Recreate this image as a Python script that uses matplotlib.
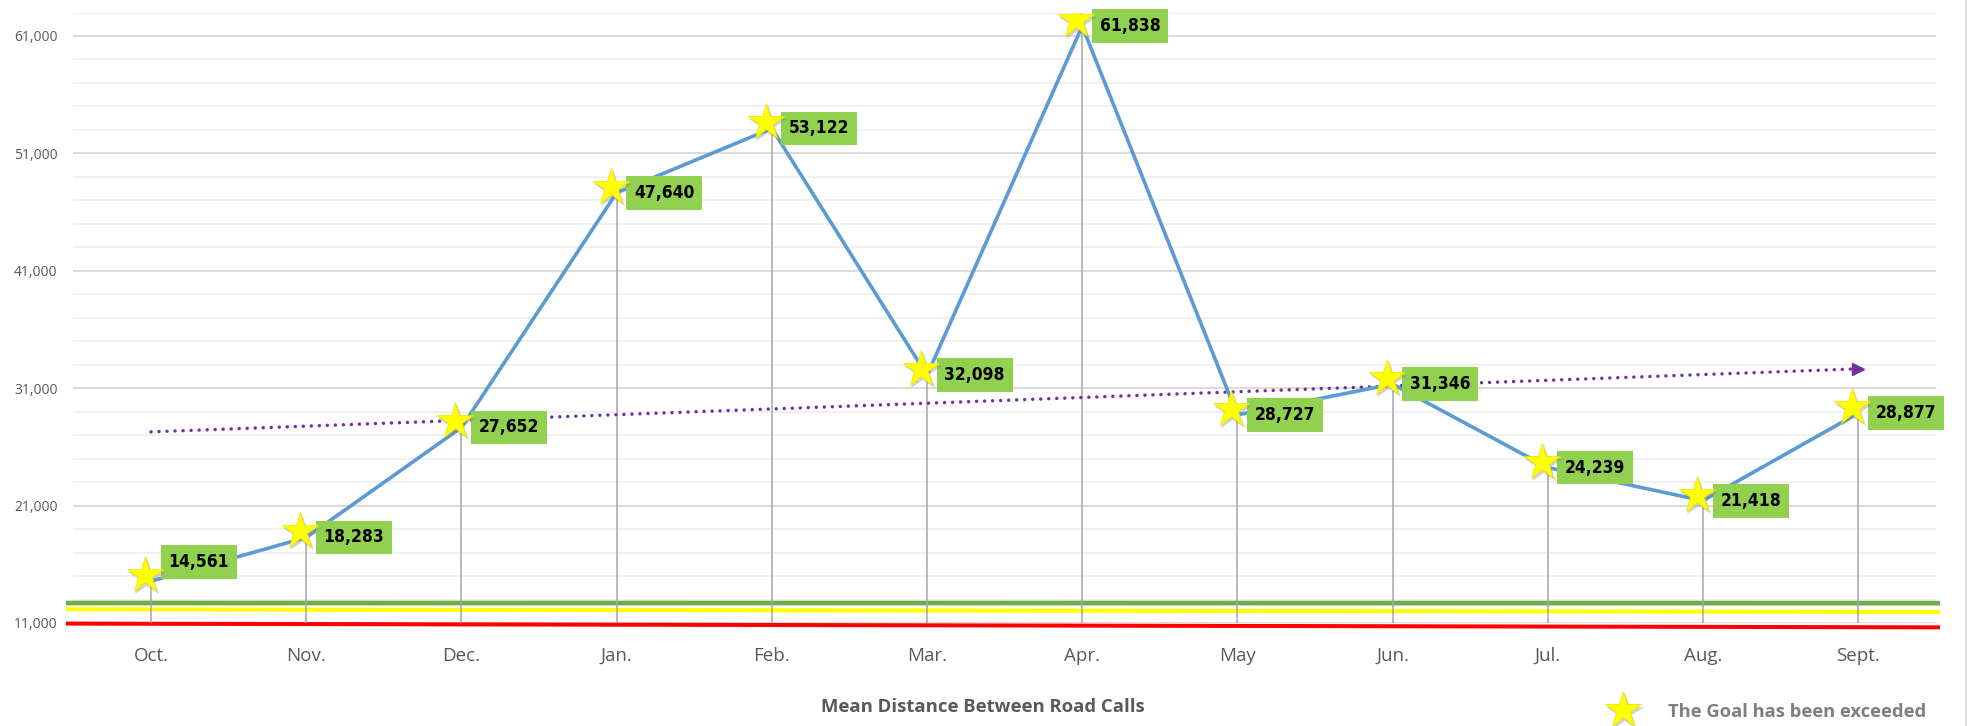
import matplotlib
matplotlib.use("Agg")
import matplotlib.pyplot as plt
import matplotlib.transforms as mtransforms
from matplotlib.lines import Line2D

# data
months = ["Oct.", "Nov.", "Dec.", "Jan.", "Feb.", "Mar.", "Apr.", "May", "Jun.", "Jul.", "Aug.", "Sept."]
mdbrc = [14561, 18283, 27652, 47640, 53122, 32098, 61838, 28727, 31346, 24239, 21418, 28877]
trend_ends = [27280, 32650]          # dotted trend, Oct -> Sept
goal_green = [12700, 12690]          # left, right
goal_yellow = [12170, 11940]
goal_red = [10950, 10630]
yticks = [11000, 21000, 31000, 41000, 51000, 61000]
ylims = [11000, 63000]

plt.rcParams['font.family'] = ['Open Sans', 'DejaVu Sans']

fig = plt.figure(figsize=(19.71, 7.26), dpi=100)
ax = fig.add_axes([73.4 / 1971, 103 / 726, 1862.4 / 1971, 610.5 / 726])

x = list(range(len(months)))

# gridlines: minor every 2,000, major every 10,000
for v in range(ylims[0], ylims[1] + 1, 2000):
    if v in yticks:
        ax.axhline(v, color='#D9D9D9', lw=1.3, zorder=1)
    else:
        ax.axhline(v, color='#F0F0F0', lw=1.3, zorder=1)

# goal lines (run a little past the plot area)
gx = [-0.548, 11.527]
ax.plot(gx, goal_green, color='#70AD47', lw=3.4, zorder=2, clip_on=False, solid_capstyle='butt')
ax.plot(gx, goal_yellow, color='#FFFF00', lw=3.0, zorder=2, clip_on=False, solid_capstyle='butt')
ax.plot(gx, goal_red, color='#FF0000', lw=2.9, zorder=2, clip_on=False, solid_capstyle='butt')

# drop lines
ax.vlines(x, ylims[0], mdbrc, color='#A6A6A6', lw=1.1, zorder=3)

# trend line with arrow head
ax.plot([x[0], x[-1]], trend_ends, color='#7030A0', lw=2.5, zorder=4,
        linestyle=(0, (0.01, 2.3)), dash_capstyle='round')
ax.plot([x[-1]], [trend_ends[1]], marker='>', ms=9, color='#7030A0', mec='#7030A0', zorder=4)

# main line
ax.plot(x, mdbrc, color='#5B9BD5', lw=2.6, zorder=5, solid_joinstyle='round')

# data labels
for i, v in enumerate(mdbrc):
    dy = 14 if i == 0 else 0
    ax.annotate(f"{v:,}", xy=(i, v), xytext=(12.5, dy), textcoords='offset points',
                ha='left', va='center', fontsize=12.5, fontweight='bold', color='black',
                family='DejaVu Sans', fontstretch='condensed', zorder=6,
                bbox=dict(boxstyle='square,pad=0.45', fc='#92D050', ec='none'))

# stars with soft shadow, sitting a bit up-left of the point like the original
star_pos = mtransforms.offset_copy(ax.transData, fig=fig, x=-6, y=6, units='dots')
shadow = mtransforms.offset_copy(ax.transData, fig=fig, x=-4, y=3, units='dots')
ax.plot(x, mdbrc, ls='none', marker='*', ms=29, color='#808080', alpha=0.35, mew=0,
        transform=shadow, zorder=7)
ax.plot(x, mdbrc, ls='none', marker='*', ms=28, color='#FFFF00', mec='#E6E600', mew=0.5,
        transform=star_pos, zorder=8)

ax.set_xlim(-0.5, len(months) - 0.5)
ax.set_ylim(ylims)
ax.set_yticks(yticks)
ax.set_yticklabels([f"{v:,}" for v in yticks])
ax.set_xticks(x)
ax.set_xticklabels(months)
ax.tick_params(axis='y', length=0, pad=11.5, labelsize=10, labelcolor='#595959')
ax.tick_params(axis='x', length=0, pad=17, labelsize=13.5, labelcolor='#595959')
for s in ax.spines.values():
    s.set_visible(False)

fig.text(983 / 1971, 1 - 707 / 726, "Mean Distance Between Road Calls", ha='center', va='center',
         fontsize=13.3, fontweight='bold', color='#595959')

# legend-ish note
fig.add_artist(Line2D([1625 / 1971], [1 - 713 / 726], marker='*', ms=29, color='#808080', alpha=0.35,
                      mew=0, ls='none', transform=fig.transFigure))
fig.add_artist(Line2D([1623 / 1971], [1 - 710 / 726], marker='*', ms=28, color='#FFFF00', mec='#E6E600',
                      mew=0.5, ls='none', transform=fig.transFigure))
fig.text(1668 / 1971, 1 - 712 / 726, "The Goal has been exceeded", ha='left', va='center',
         fontsize=13.2, fontweight='bold', color='#7F7F7F')

# thin border at the right edge
fig.add_artist(Line2D([1966 / 1971, 1966 / 1971], [0, 1], color='#D9D9D9', lw=1.2, transform=fig.transFigure))

fig.savefig("out.png", dpi=100, facecolor='white')
